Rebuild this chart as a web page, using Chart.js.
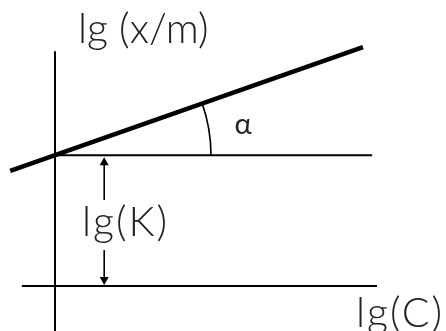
<!DOCTYPE html>
<html>
<head>
<meta charset="utf-8">
<script src="https://cdn.jsdelivr.net/npm/chart.js@4"></script>
<style>
  html, body { margin: 0; padding: 0; background: #fff; }
  #wrap { width: 446px; height: 331px; position: relative; }
</style>
</head>
<body>
<div id="wrap"><canvas id="plot"></canvas></div>
<script>
// Freundlich isotherm sketch: lg(x/m) = lg(K) + n * lg(C)
const isothermC = [-1.12, 7.7];
const isothermXm = [2.88, 5.97];
const lgK = 3.27;
const kLineC = [0, 7.93];
const baseLineC = [-0.83, 8.05];
const axisXm = [-1.2, 5.87];
const arrowC = 1.23;
const arrowGap = [0.9, 2.15];
const arcRadius = 3.9;

const yTitle = 'lg (x/m)';
const xTitle = 'lg(C)';
const kLabel = 'lg(K)';
const angleLabel = 'α';

const FONT = '300 41px Lato, "Liberation Sans", sans-serif';
const INK = '#000';

function pts(xs, ys) {
  return xs.map((x, i) => ({ x: x, y: ys[i] }));
}

function seg(data, width) {
  return {
    data: data,
    showLine: true,
    borderColor: INK,
    borderWidth: width,
    borderCapStyle: 'butt',
    pointRadius: 0,
    fill: false,
  };
}

// arrowheads, angle arc and text labels
const sketchPlugin = {
  id: 'sketch',
  afterDatasetsDraw(chart) {
    const ctx = chart.ctx;
    const sx = chart.scales.x;
    const sy = chart.scales.y;
    const px = (v) => sx.getPixelForValue(v);
    const py = (v) => sy.getPixelForValue(v);

    ctx.save();
    ctx.fillStyle = INK;
    ctx.strokeStyle = INK;

    // arrowheads pointing at the two horizontal lines
    const ax = px(arrowC);
    const tipTop = py(lgK) + 2;
    const tipBottom = py(0) - 1;
    ctx.beginPath();
    ctx.moveTo(ax, tipTop);
    ctx.lineTo(ax - 4.5, tipTop + 8);
    ctx.lineTo(ax + 4.5, tipTop + 8);
    ctx.closePath();
    ctx.fill();
    ctx.beginPath();
    ctx.moveTo(ax, tipBottom);
    ctx.lineTo(ax - 4.5, tipBottom - 8);
    ctx.lineTo(ax + 4.5, tipBottom - 8);
    ctx.closePath();
    ctx.fill();

    // angle alpha between isotherm and the lg(K) level
    const cx = px(0);
    const cy = py(lgK);
    const dx = px(isothermC[1]) - px(isothermC[0]);
    const dy = py(isothermXm[1]) - py(isothermXm[0]);
    const ang = Math.atan2(dy, dx);
    const r = px(arcRadius) - px(0);
    ctx.lineWidth = 1.6;
    ctx.beginPath();
    ctx.arc(cx, cy, r, ang, 0);
    ctx.stroke();

    // labels
    ctx.font = FONT;
    ctx.fillStyle = '#222';
    ctx.textBaseline = 'alphabetic';
    ctx.textAlign = 'left';
    ctx.fillText(yTitle, px(0.575), py(6.075));
    ctx.letterSpacing = '2px';
    ctx.fillText(kLabel, px(0.675), py(1.25));
    ctx.fillText(xTitle, px(7.525), py(-1.025));
    ctx.letterSpacing = '0px';

    ctx.font = '400 29px Lato, "Liberation Sans", sans-serif';
    ctx.textAlign = 'center';
    ctx.textBaseline = 'middle';
    ctx.fillText(angleLabel, px(4.7), py(4.03));
    ctx.restore();
  },
};

new Chart(document.getElementById('plot'), {
  type: 'scatter',
  data: {
    datasets: [
      seg(pts(isothermC, isothermXm), 4.5),
      seg(pts(kLineC, [lgK, lgK]), 2),
      seg(pts(baseLineC, [0, 0]), 2),
      seg(pts([0, 0], axisXm), 2),
      seg(pts([arrowC, arrowC], [lgK - 0.15, arrowGap[1]]), 1.6),
      seg(pts([arrowC, arrowC], [arrowGap[0], 0.15]), 1.6),
    ],
  },
  options: {
    responsive: true,
    maintainAspectRatio: false,
    animation: false,
    layout: { padding: 0 },
    plugins: {
      legend: { display: false },
      tooltip: { enabled: false },
    },
    scales: {
      x: { type: 'linear', min: -1.375, max: 9.775, display: false },
      y: { type: 'linear', min: -1.125, max: 7.15, display: false },
    },
  },
  plugins: [sketchPlugin],
});
</script>
</body>
</html>
